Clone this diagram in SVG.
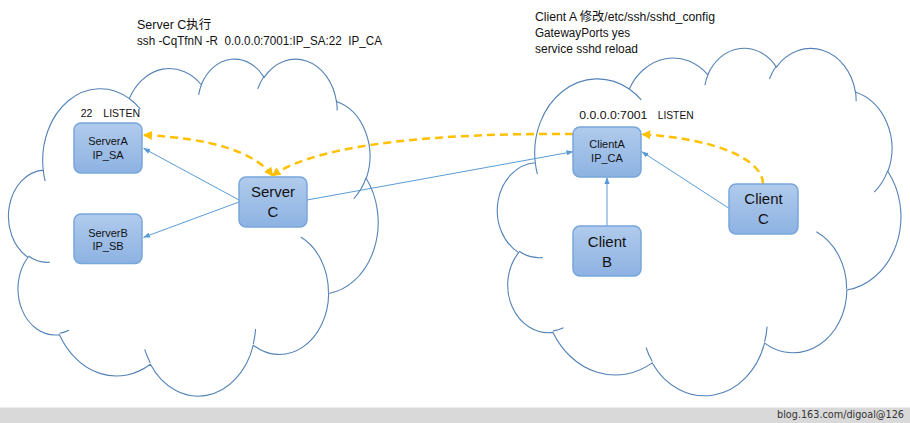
<svg xmlns="http://www.w3.org/2000/svg" width="910" height="423" viewBox="0 0 910 423">
<style>
.cl{fill:none;stroke:#5482b6;stroke-width:1.1;vector-effect:non-scaling-stroke}
.box{fill:url(#bg);stroke:#78a6da;stroke-width:1.5}
.t{font-family:"Liberation Sans","Noto Sans CJK SC",sans-serif;fill:#111}
.big{font-size:15px;text-anchor:middle}
.sm{font-size:11px;text-anchor:middle}
.lbl{font-size:10.5px}
.top{font-size:12.5px}
.ln{fill:none;stroke:#5b9bd5;stroke-width:1;marker-end:url(#ab)}
.dash{fill:none;stroke:#ffc000;stroke-width:2.5;stroke-dasharray:8 5}
</style>
<defs>
<linearGradient id="bg" x1="0" y1="0" x2="0" y2="1">
<stop offset="0" stop-color="#b0cbec"/>
<stop offset="1" stop-color="#8db2e2"/>
</linearGradient>
<marker id="ab" viewBox="0 0 8 6" refX="7.5" refY="3" markerWidth="7" markerHeight="5.5" markerUnits="userSpaceOnUse" orient="auto">
<path d="M0,0 L8,3 L0,6 z" fill="#5b9bd5"/>
</marker>
<marker id="ao" viewBox="0 0 8 8" refX="7" refY="4" markerWidth="9" markerHeight="9" markerUnits="userSpaceOnUse" orient="auto-start-reverse">
<path d="M0,0 L8,4 L0,8 z" fill="#ffc000"/>
</marker>
</defs>
<rect x="0" y="0" width="910" height="423" fill="#fff"/>

<g id="cloud-server">
<path class="cl" transform="translate(10,58) scale(0.008519,0.0078)" d="M3900,14370 A6753,9190 0 0 1 14005,5202 A5333,7267 0 0 1 22455,3433 A4365,5945 0 0 1 29832,2481 A4857,6595 0 0 1 38317,5576 A5333,7273 0 0 1 41817,15459 A6775,9220 0 0 1 37403,30202 A5785,7867 0 0 1 28554,36812 A6752,9215 0 0 1 16480,39266 A7720,10543 0 0 1 5804,35471 A4360,5918 0 0 1 2113,25549 A4345,5945 0 0 1 3900,14370 Z M4693,26177 A4345,5945 0 0 1 2161,25380 M6928,34899 A4360,5918 0 0 1 5819,35281 M16478,39090 A6752,9215 0 0 1 15809,37347 M28827,34751 A6752,9215 0 0 1 28560,36660 M34129,22954 A5785,7867 0 0 1 37381,30089 M41798,15354 A5333,7273 0 0 1 40350,18031 M38324,5426 A4857,6595 0 0 1 38400,6723 M29078,3952 A4857,6595 0 0 1 29821,2339 M22141,4720 A4365,5945 0 0 1 22500,3331 M14000,5192 A6753,9190 0 0 1 15300,6540 M4127,15789 A6753,9190 0 0 1 3901,14371"/>
</g>
<g id="cloud-client">
<path class="cl" transform="translate(499,47.2) scale(0.0093,0.00804)" d="M3900,14370 A6753,9190 0 0 1 14005,5202 A5333,7267 0 0 1 22455,3433 A4365,5945 0 0 1 29832,2481 A4857,6595 0 0 1 38317,5576 A5333,7273 0 0 1 41817,15459 A6775,9220 0 0 1 37403,30202 A5785,7867 0 0 1 28554,36812 A6752,9215 0 0 1 16480,39266 A7720,10543 0 0 1 5804,35471 A4360,5918 0 0 1 2113,25549 A4345,5945 0 0 1 3900,14370 Z M4693,26177 A4345,5945 0 0 1 2161,25380 M6928,34899 A4360,5918 0 0 1 5819,35281 M16478,39090 A6752,9215 0 0 1 15809,37347 M28827,34751 A6752,9215 0 0 1 28560,36660 M34129,22954 A5785,7867 0 0 1 37381,30089 M41798,15354 A5333,7273 0 0 1 40350,18031 M38324,5426 A4857,6595 0 0 1 38400,6723 M29078,3952 A4857,6595 0 0 1 29821,2339 M22141,4720 A4365,5945 0 0 1 22500,3331 M14000,5192 A6753,9190 0 0 1 15300,6540 M4127,15789 A6753,9190 0 0 1 3901,14371"/>
</g>

<g id="labels" class="t">
<text class="top" x="137" y="29">Server C执行</text>
<text class="top" x="137" y="44.5" xml:space="preserve" textLength="245" lengthAdjust="spacingAndGlyphs">ssh -CqTfnN -R  0.0.0.0:7001:IP_SA:22  IP_CA</text>
<text class="top" x="535" y="20.7" textLength="180" lengthAdjust="spacingAndGlyphs">Client A 修改/etc/ssh/sshd_config</text>
<text class="top" x="535" y="37" textLength="95" lengthAdjust="spacingAndGlyphs">GatewayPorts yes</text>
<text class="top" x="535" y="53.3" textLength="103" lengthAdjust="spacingAndGlyphs">service sshd reload</text>
<text class="lbl" x="80.7" y="117.3">22</text>
<text class="lbl" x="103.3" y="117.3">LISTEN</text>
<text class="lbl" x="579.3" y="119.3" textLength="68" lengthAdjust="spacingAndGlyphs">0.0.0.0:7001</text>
<text class="lbl" x="657.7" y="119.3" textLength="36" lengthAdjust="spacingAndGlyphs">LISTEN</text>
</g>

<g id="connectors">
<line class="ln" x1="239" y1="200" x2="143.5" y2="148.3"/>
<line class="ln" x1="239" y1="202" x2="143.5" y2="237.3"/>
<line class="ln" x1="307" y1="200" x2="573" y2="151.7"/>
<line class="ln" x1="607" y1="226" x2="607" y2="177.5"/>
<line class="ln" x1="729" y1="208.3" x2="641.8" y2="151.7"/>
<path class="dash" d="M144,135 Q245,140 272.5,175.5" marker-start="url(#ao)" marker-end="url(#ao)"/>
<path class="dash" d="M573,134 C450,133 320,142 272.5,175.5" marker-end="url(#ao)"/>
<path class="dash" d="M763,184 C763,160 718,139 642.5,134.3" marker-end="url(#ao)"/>
</g>

<g id="serverA">
<rect class="box" x="74" y="123" width="68" height="50" rx="7"/>
<text class="t sm" x="108" y="145.3">ServerA</text>
<text class="t sm" x="108" y="158.6">IP_SA</text>
</g>
<g id="serverB">
<rect class="box" x="74" y="214" width="68" height="49.5" rx="7"/>
<text class="t sm" x="108" y="236.5">ServerB</text>
<text class="t sm" x="108" y="250">IP_SB</text>
</g>
<g id="serverC">
<rect class="box" x="239" y="177" width="68" height="50" rx="7"/>
<text class="t big" x="273" y="197">Server</text>
<text class="t big" x="273" y="217">C</text>
</g>
<g id="clientA">
<rect class="box" x="573" y="127" width="68" height="50" rx="7"/>
<text class="t sm" x="607" y="148.3">ClientA</text>
<text class="t sm" x="607" y="162">IP_CA</text>
</g>
<g id="clientB">
<rect class="box" x="573" y="226" width="68" height="50" rx="7"/>
<text class="t big" x="607" y="246.5">Client</text>
<text class="t big" x="607" y="266.5">B</text>
</g>
<g id="clientC">
<rect class="box" x="729" y="184" width="69" height="50" rx="7"/>
<text class="t big" x="763.5" y="204">Client</text>
<text class="t big" x="763.5" y="224">C</text>
</g>

<g id="footer">
<rect x="0" y="407.5" width="910" height="15.5" fill="#d9d9d9"/>
<text x="777" y="418" font-family="DejaVu Sans, sans-serif" font-size="10.5" fill="#333" textLength="127" lengthAdjust="spacingAndGlyphs">blog.163.com/digoal@126</text>
</g>
</svg>
